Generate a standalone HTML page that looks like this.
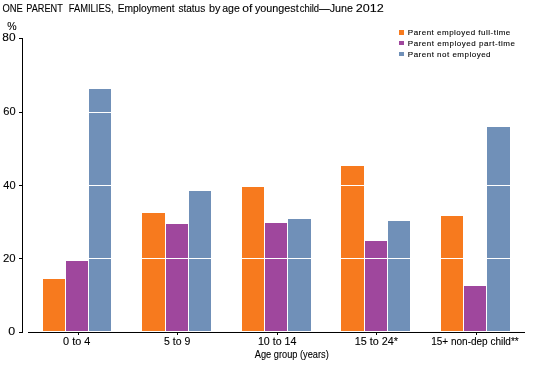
<!DOCTYPE html>
<html><head><meta charset="utf-8"><style>
html,body{margin:0;padding:0;background:#fff;width:535px;height:378px;overflow:hidden}
svg{display:block;will-change:transform;font-family:"Liberation Sans",sans-serif}
</style></head><body>
<svg width="535" height="378" viewBox="0 0 535 378">
<rect width="535" height="378" fill="#fff"/>
<rect x="19" y="38" width="4" height="1" fill="#000"/>
<rect x="19" y="112" width="4" height="1" fill="#000"/>
<rect x="19" y="185" width="4" height="1" fill="#000"/>
<rect x="19" y="258" width="4" height="1" fill="#000"/>
<rect x="19" y="332" width="4" height="1" fill="#000"/>
<rect x="22" y="38" width="1" height="295" fill="#000"/>
<rect x="43" y="279" width="22" height="52" fill="#F77A1E"/>
<rect x="66" y="261" width="22" height="70" fill="#9F479D"/>
<rect x="89" y="89" width="22" height="242" fill="#7090B8"/>
<rect x="142" y="213" width="23" height="118" fill="#F77A1E"/>
<rect x="166" y="224" width="22" height="107" fill="#9F479D"/>
<rect x="189" y="191" width="22" height="140" fill="#7090B8"/>
<rect x="242" y="187" width="22" height="144" fill="#F77A1E"/>
<rect x="265" y="223" width="22" height="108" fill="#9F479D"/>
<rect x="288" y="219" width="23" height="112" fill="#7090B8"/>
<rect x="341" y="166" width="23" height="165" fill="#F77A1E"/>
<rect x="365" y="241" width="22" height="90" fill="#9F479D"/>
<rect x="388" y="221" width="22" height="110" fill="#7090B8"/>
<rect x="441" y="216" width="22" height="115" fill="#F77A1E"/>
<rect x="464" y="286" width="22" height="45" fill="#9F479D"/>
<rect x="487" y="127" width="23" height="204" fill="#7090B8"/>
<rect x="28" y="112" width="497" height="1" fill="#fff"/>
<rect x="28" y="185" width="497" height="1" fill="#fff"/>
<rect x="28" y="258" width="497" height="1" fill="#fff"/>
<rect x="28" y="332" width="497" height="1" fill="#000"/>
<rect x="78" y="333" width="1" height="2" fill="#000"/>
<rect x="177" y="333" width="1" height="2" fill="#000"/>
<rect x="277" y="333" width="1" height="2" fill="#000"/>
<rect x="376" y="333" width="1" height="2" fill="#000"/>
<rect x="476" y="333" width="1" height="2" fill="#000"/>
<rect x="399" y="30" width="5" height="5" fill="#F77A1E"/>
<rect x="399" y="41" width="5" height="4" fill="#9F479D"/>
<rect x="399" y="52" width="5" height="4" fill="#7090B8"/>
<text x="2.51" y="12" font-size="11" textLength="20.33" lengthAdjust="spacingAndGlyphs" stroke="#000" stroke-width="0.1">ONE</text>
<text x="26.31" y="12" font-size="11" textLength="36.54" lengthAdjust="spacingAndGlyphs" stroke="#000" stroke-width="0.1">PARENT</text>
<text x="68.79" y="12" font-size="11" textLength="44.74" lengthAdjust="spacingAndGlyphs" stroke="#000" stroke-width="0.1">FAMILIES,</text>
<text x="117.63" y="12" font-size="11" textLength="56.9" lengthAdjust="spacingAndGlyphs" stroke="#000" stroke-width="0.1">Employment</text>
<text x="178.42" y="12" font-size="11" textLength="26.78" lengthAdjust="spacingAndGlyphs" stroke="#000" stroke-width="0.1">status</text>
<text x="208.98" y="12" font-size="11" textLength="11.46" lengthAdjust="spacingAndGlyphs" stroke="#000" stroke-width="0.1">by</text>
<text x="222.25" y="12" font-size="11" textLength="17.6" lengthAdjust="spacingAndGlyphs" stroke="#000" stroke-width="0.1">age</text>
<text x="242.36" y="12" font-size="11" textLength="10.16" lengthAdjust="spacingAndGlyphs" stroke="#000" stroke-width="0.1">of</text>
<text x="254.95" y="12" font-size="11" textLength="43.77" lengthAdjust="spacingAndGlyphs" stroke="#000" stroke-width="0.1">youngest</text>
<text x="299.7" y="12" font-size="11" textLength="19.44" lengthAdjust="spacingAndGlyphs" stroke="#000" stroke-width="0.1">child</text>
<text x="318.96" y="12" font-size="11" textLength="33.96" lengthAdjust="spacingAndGlyphs" stroke="#000" stroke-width="0.1">—June</text>
<text x="355.71" y="12" font-size="11" textLength="28.03" lengthAdjust="spacingAndGlyphs" stroke="#000" stroke-width="0.1">2012</text>
<text x="7.36" y="29.5" font-size="10" textLength="9.38" lengthAdjust="spacingAndGlyphs" stroke="#000" stroke-width="0.1">%</text>
<text x="2.36" y="41.0" font-size="10" textLength="13.23" lengthAdjust="spacingAndGlyphs" stroke="#000" stroke-width="0.1">80</text>
<text x="3.26" y="115.0" font-size="10" textLength="12.29" lengthAdjust="spacingAndGlyphs" stroke="#000" stroke-width="0.1">60</text>
<text x="3.25" y="189.0" font-size="10" textLength="12.3" lengthAdjust="spacingAndGlyphs" stroke="#000" stroke-width="0.1">40</text>
<text x="2.95" y="262.0" font-size="10" textLength="12.61" lengthAdjust="spacingAndGlyphs" stroke="#000" stroke-width="0.1">20</text>
<text x="8.37" y="335.0" font-size="10" textLength="6.92" lengthAdjust="spacingAndGlyphs" stroke="#000" stroke-width="0.1">0</text>
<text x="63.04" y="345.0" font-size="10" textLength="27.31" lengthAdjust="spacingAndGlyphs" stroke="#000" stroke-width="0.1">0 to 4</text>
<text x="164.03" y="345.0" font-size="10" textLength="26.3" lengthAdjust="spacingAndGlyphs" stroke="#000" stroke-width="0.1">5 to 9</text>
<text x="257.92" y="345.0" font-size="10" textLength="38.46" lengthAdjust="spacingAndGlyphs" stroke="#000" stroke-width="0.1">10 to 14</text>
<text x="354.8" y="345.0" font-size="10" textLength="43.25" lengthAdjust="spacingAndGlyphs" stroke="#000" stroke-width="0.1">15 to 24*</text>
<text x="431.27" y="345.0" font-size="10" textLength="87.44" lengthAdjust="spacingAndGlyphs" stroke="#000" stroke-width="0.1">15+ non-dep child**</text>
<text x="254.78" y="358.0" font-size="10" textLength="73.96" lengthAdjust="spacingAndGlyphs" stroke="#000" stroke-width="0.1">Age group (years)</text>
<text x="407.82" y="35.2" font-size="8" textLength="102.49" lengthAdjust="spacing" stroke="#000" stroke-width="0.1">Parent employed full-time</text>
<text x="407.82" y="46.2" font-size="8" textLength="107.08" lengthAdjust="spacing" stroke="#000" stroke-width="0.1">Parent employed part-time</text>
<text x="407.83" y="57.2" font-size="8" textLength="82.69" lengthAdjust="spacing" stroke="#000" stroke-width="0.1">Parent not employed</text>
</svg>
</body></html>
